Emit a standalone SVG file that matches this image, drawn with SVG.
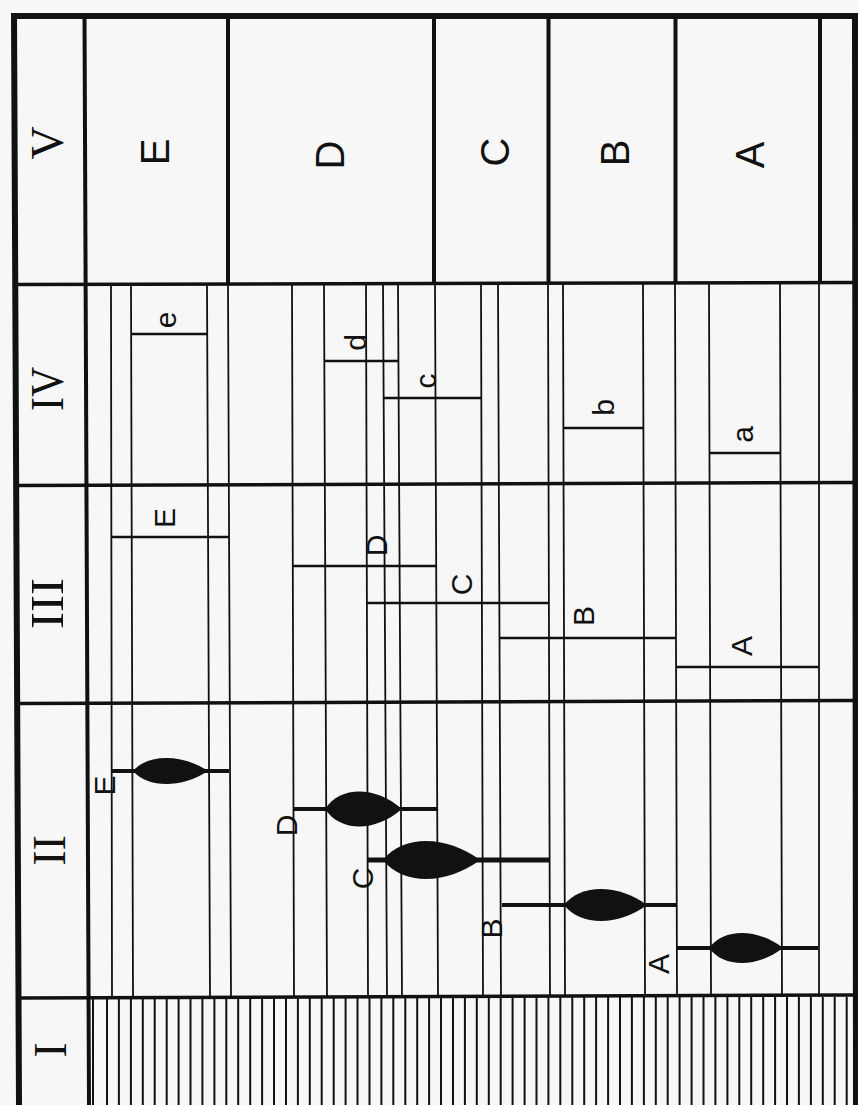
<svg xmlns="http://www.w3.org/2000/svg" width="858" height="1105" viewBox="0 0 858 1105">
<style>
.bg{fill:#f7f7f7}
.ln{stroke:#111;fill:none;stroke-linecap:butt}
.thick{stroke-width:6}
.div{stroke-width:4}
.row{stroke-width:3.5}
.thin{stroke-width:1.8}
.hatch{stroke-width:2}
.seg{stroke-width:2.7}
.spl{stroke-width:4.2}
.blob{fill:#111;stroke:none}
text{fill:#111;text-anchor:middle}
.hdr{font-family:"Liberation Sans",Arial,sans-serif;font-size:40px}
.lbl{font-family:"Liberation Sans",Arial,sans-serif;font-size:30px}
.num{font-family:"Liberation Serif","Times New Roman",serif;font-size:46px}
</style>
<rect class="bg" x="0" y="0" width="858" height="1105"/>

<g id="connectors">
  <g id="frame">
    <path class="ln thick" d="M14 13 L19 1105 M11 16 L858 16 M855 13 L856 1105"/>
    <path class="ln div" d="M84.5 13 L89 1105"/>
    <path class="ln div" d="M228 16 V284 M434 16 V284 M548.5 16 V283 M675.5 16 V283 M820 16 V283"/>
    <path class="ln row" d="M16 284.5 L855 282.5 M16 485.5 L855 482.5 M17 703.5 L855 700.5 M18 998 L855 995"/>
  </g>
  <g id="grid">
    <path class="ln thin" d="M111 284 L112 997 M131 284 L133 997 M207 284 L210 997 M228 284 L231 997 M292 284 L294 997 M324 284 L327 997 M366 284 L368 997 M383 284 L387 997 M398 284 L402 997 M435 284 L438 997 M481 284 L483 997 M498 284 L501 997 M548 284 L550 997 M563 284 L565 997 M643 284 L645 997 M675 284 L677 997 M709 284 L711 997 M780 284 L782 997 M819 284 L819 997"/>
  </g>
  <g id="hatching">
    <path class="ln hatch" d="M93 997V1105 M107 997V1105 M118.9 997V1105 M130.9 997V1105 M142.8 997V1105 M154.7 997V1105 M166.7 997V1105 M178.6 997V1105 M190.5 997V1105 M202.4 997V1105 M214.4 997V1105 M226.3 997V1105 M238.2 997V1105 M250.2 997V1105 M262.1 997V1105 M274 997V1105 M286 997V1105 M297.9 997V1105 M309.8 997V1105 M321.7 997V1105 M333.7 997V1105 M345.6 997V1105 M357.5 997V1105 M369.5 997V1105 M381.4 997V1105 M393.3 997V1105 M405.3 997V1105 M417.2 997V1105 M429.1 997V1105 M441 997V1105 M453 997V1105 M464.9 997V1105 M476.8 997V1105 M488.8 997V1105 M500.7 997V1105 M512.6 997V1105 M524.6 997V1105 M536.5 997V1105 M548.4 997V1105 M560.3 997V1105 M572.3 997V1105 M584.2 997V1105 M596.1 997V1105 M608.1 997V1105 M620 997V1105 M631.9 997V1105 M643.9 997V1105 M655.8 997V1105 M667.7 997V1105 M679.6 997V1105 M691.6 997V1105 M703.5 997V1105 M715.4 997V1105 M727.4 997V1105 M739.3 997V1105 M751.2 997V1105 M763.2 997V1105 M775.1 997V1105 M787 997V1105 M798.9 997V1105 M810.9 997V1105 M822.8 997V1105 M834.7 997V1105 M846.7 997V1105"/>
  </g>
</g>

<g id="numerals">
  <text class="num" transform="translate(62.5,143) rotate(-90)">V</text>
  <text class="num" transform="translate(63.2,389) rotate(-90)" textLength="44" lengthAdjust="spacingAndGlyphs">IV</text>
  <text class="num" transform="translate(63.2,603.5) rotate(-90)" textLength="51" lengthAdjust="spacingAndGlyphs">III</text>
  <text class="num" transform="translate(65.2,850.5) rotate(-90)">II</text>
  <text class="num" transform="translate(65.7,1050) rotate(-90)">I</text>
</g>

<g id="header">
  <g id="hdr-E"><text class="hdr" transform="translate(169.3,152) rotate(-90)">E</text></g>
  <g id="hdr-D"><text class="hdr" transform="translate(344.3,155) rotate(-90)">D</text></g>
  <g id="hdr-C"><text class="hdr" transform="translate(509.3,152) rotate(-90)">C</text></g>
  <g id="hdr-B"><text class="hdr" transform="translate(629.3,153) rotate(-90)">B</text></g>
  <g id="hdr-A"><text class="hdr" transform="translate(763.8,155) rotate(-90)">A</text></g>
</g>

<g id="row-IV">
  <g id="iv-e"><path class="ln seg" d="M131 334 H208"/><text class="lbl" transform="translate(176.3,320) rotate(-90)">e</text></g>
  <g id="iv-d"><path class="ln seg" d="M324 361 H399"/><text class="lbl" transform="translate(366,342.5) rotate(-90)">d</text></g>
  <g id="iv-c"><path class="ln seg" d="M384 398 H481"/><text class="lbl" transform="translate(435.8,381) rotate(-90)">c</text></g>
  <g id="iv-b"><path class="ln seg" d="M563 428 H643"/><text class="lbl" transform="translate(613.5,407.5) rotate(-90)">b</text></g>
  <g id="iv-a"><path class="ln seg" d="M709 453 H780"/><text class="lbl" transform="translate(752.8,434.5) rotate(-90)">a</text></g>
</g>

<g id="row-III">
  <g id="iii-E"><path class="ln seg" d="M112 537 H229"/><text class="lbl" transform="translate(174.7,518) rotate(-90)">E</text></g>
  <g id="iii-D"><path class="ln seg" d="M292 566 H436"/><text class="lbl" transform="translate(386.7,545.5) rotate(-90)">D</text></g>
  <g id="iii-C"><path class="ln seg" d="M367 603 H548"/><text class="lbl" transform="translate(472.2,584.5) rotate(-90)">C</text></g>
  <g id="iii-B"><path class="ln seg" d="M500 638 H676"/><text class="lbl" transform="translate(593.7,616) rotate(-90)">B</text></g>
  <g id="iii-A"><path class="ln seg" d="M676 667 H818"/><text class="lbl" transform="translate(752.2,646) rotate(-90)">A</text></g>
</g>

<g id="row-II">
  <g id="ii-E">
    <path class="ln spl" d="M111 771 H229"/>
    <path class="blob" d="M133 771 C148 753.7 181.8 753.7 208 771 C181.8 788.3 148 788.3 133 771 Z"/>
    <text class="lbl" transform="translate(114.7,785.5) rotate(-90)">E</text>
  </g>
  <g id="ii-D">
    <path class="ln spl" d="M293 809 H437"/>
    <path class="blob" d="M325 809 C340.4 785.7 375 785.7 402 809 C375 832.3 340.4 832.3 325 809 Z"/>
    <text class="lbl" transform="translate(296.7,825.5) rotate(-90)">D</text>
  </g>
  <g id="ii-C">
    <path class="ln spl" d="M367 860 H549" style="stroke-width:5"/>
    <path class="blob" d="M383 860 C402.4 834.7 446 834.7 480 860 C446 885.3 402.4 885.3 383 860 Z"/>
    <text class="lbl" transform="translate(373.2,878.5) rotate(-90)">C</text>
  </g>
  <g id="ii-B">
    <path class="ln spl" d="M502 905 H677"/>
    <path class="blob" d="M564 905 C580.6 883.7 618 883.7 647 905 C618 926.3 580.6 926.3 564 905 Z"/>
    <text class="lbl" transform="translate(501.7,928.5) rotate(-90)">B</text>
  </g>
  <g id="ii-A">
    <path class="ln spl" d="M676 948 H818"/>
    <path class="blob" d="M709 948 C723.8 928 757.1 928 783 948 C757.1 968 723.8 968 709 948 Z"/>
    <text class="lbl" transform="translate(668.7,964) rotate(-90)">A</text>
  </g>
</g>
</svg>
